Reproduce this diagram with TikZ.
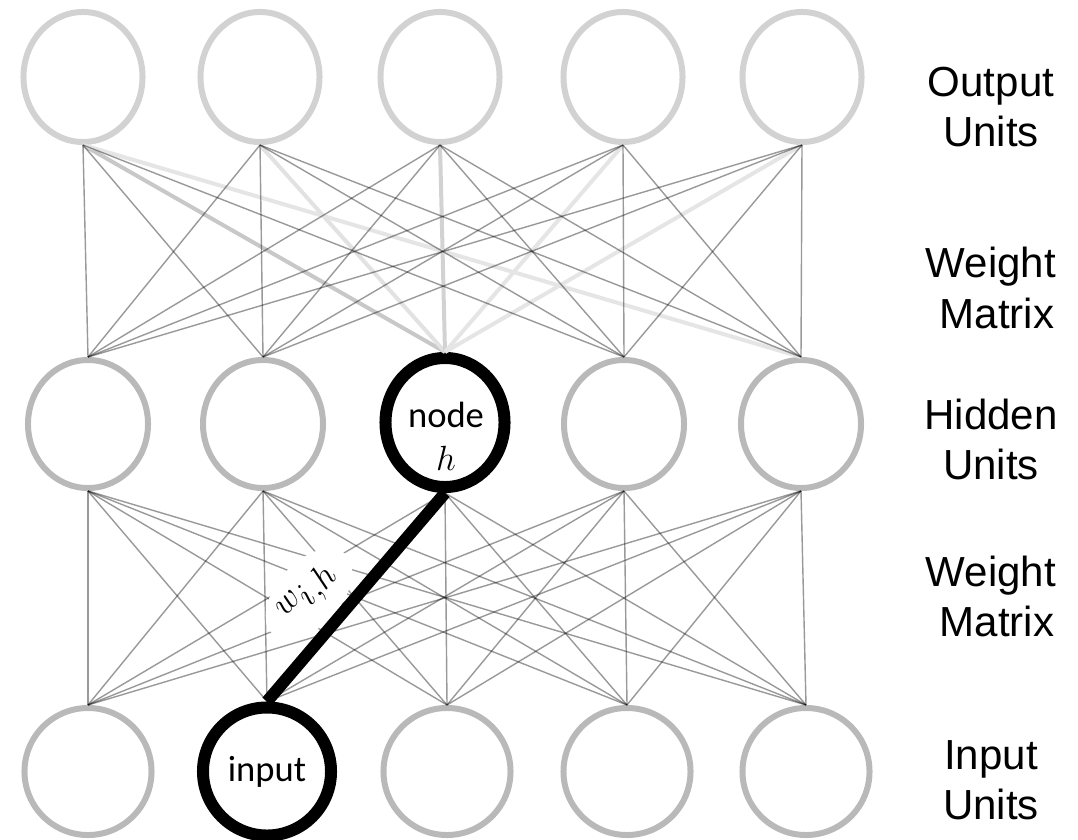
\documentclass[tikz,border=0pt]{standalone}
\usepackage{fontspec}
\setmainfont{Liberation Sans}
\newfontfamily\unitfont{Carlito}
\usetikzlibrary{shapes.geometric}

\definecolor{outgray}{HTML}{D2D2D2}
\definecolor{unitgray}{HTML}{B9B9B9}

\tikzset{
  neuron/.style={ellipse, draw=unitgray, line width=1.5mm, inner sep=0pt,
    minimum width=3cm, minimum height=3.2cm},
  outneuron/.style={neuron, draw=outgray, minimum width=2.975cm, minimum height=3.25cm},
  inneuron/.style={neuron, minimum width=3.175cm, minimum height=3.175cm},
  picked/.style={draw=black, line width=3mm},
  link/.style={draw=black, opacity=0.4, line width=0.35mm},
  faded/.style={line width=1mm},
  layername/.style={font=\fontsize{29.9}{35.6}\selectfont, align=center},
  neuronname/.style={font=\unitfont\fontsize{26}{30.6}\selectfont, align=center}
}

\begin{document}
\begin{tikzpicture}[x=0.025cm, y=-0.025cm]
  \useasboundingbox (0,0) rectangle (1078,840);

  \node[outneuron] (o1) at ( 83, 77) {};
  \node[outneuron] (o2) at (260, 77) {};
  \node[outneuron] (o3) at (440, 77) {};
  \node[outneuron] (o4) at (623, 77) {};
  \node[outneuron] (o5) at (802, 77) {};

  \node[neuron] (h1) at ( 88, 424) {};
  \node[neuron] (h2) at (263, 424) {};
  \node[neuron, picked, minimum width=2.975cm, minimum height=3.225cm] (h3) at (445, 422.5) {};
  \node[neuron] (h4) at (624, 424) {};
  \node[neuron] (h5) at (801, 424) {};
  \node[neuronname] (hname) at (446, 436) {node\\$h$};

  \node[inneuron] (i1) at ( 88, 771.5) {};
  \node[inneuron, picked, minimum width=3.2cm, minimum height=3.2cm, neuronname] (i2) at (267, 771.5) {input};
  \node[inneuron] (i3) at (447, 771.5) {};
  \node[inneuron] (i4) at (627, 771.5) {};
  \node[inneuron] (i5) at (806, 771.5) {};

  \node[layername] (outname) at (991, 107) {Output\\Units};
  \node[layername] (topwname) at (991, 288) {Weight\\\hspace*{.28em}Matrix};
  \node[layername] (hidname) at (991, 439) {Hidden\\Units};
  \node[layername] (botwname) at (991, 596) {Weight\\\hspace*{.28em}Matrix};
  \node[layername] (inname) at (991, 780) {Input\\Units};

  % upper weights, the ones into h3 are faded out
  \draw[faded, draw=gray!43] (o1.south) -- (h3.north);
  \draw[faded, draw=gray!23] (o2.south) -- (h3.north);
  \draw[faded, draw=gray!35] (o3.south) -- (h3.north);
  \draw[faded, draw=gray!20] (o4.south) -- (h3.north);
  \draw[faded, draw=gray!20] (o5.south) -- (h3.north);
  \draw[faded, draw=gray!20] (o1.south) -- (h5.north);
  \foreach \a in {1,...,5}
    \foreach \b in {1,2,4,5}
      {\ifnum\a\b=15 \else \draw[link] (o\a.south) -- (h\b.north); \fi}

  % lower weights
  \foreach \a in {1,...,5}
    \foreach \b in {1,...,5}
      {\ifnum\a\b=32 \else \draw[link] (h\a.south) -- (i\b.north); \fi}

  \node[ellipse, fill=white, rotate=48, minimum width=2.7cm, minimum height=1.6cm,
    font=\fontsize{33}{36}\selectfont] (wih) at (309, 594) {$w_{i,h}$};
  \draw[picked] (h3.south) -- (i2.north);

\end{tikzpicture}
\end{document}
